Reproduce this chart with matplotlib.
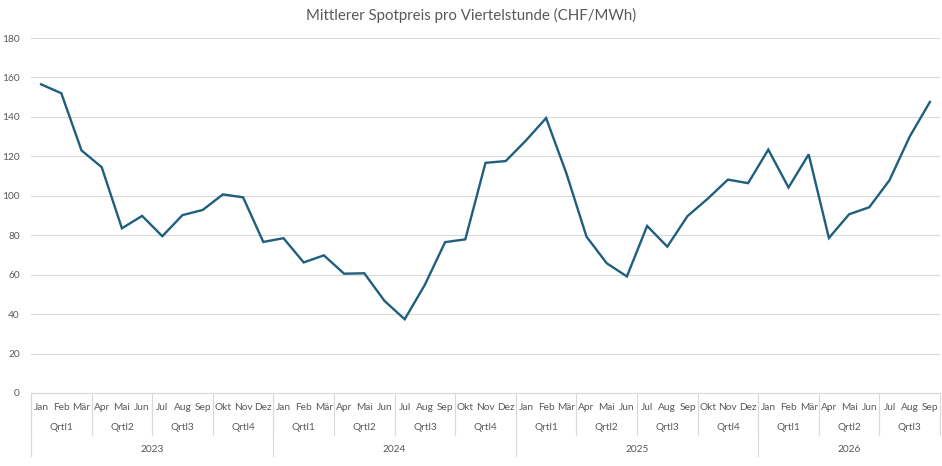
import numpy as np
import matplotlib
matplotlib.use("Agg")
from matplotlib import pyplot as plt
from matplotlib.transforms import blended_transform_factory

plt.rcParams['font.family'] = ['Lato', 'DejaVu Sans']

months = ["Jan", "Feb", "Mär", "Apr", "Mai", "Jun",
          "Jul", "Aug", "Sep", "Okt", "Nov", "Dez"]
quarters = ["Qrtl1", "Qrtl2", "Qrtl3", "Qrtl4"]
years = ["2023", "2024", "2025", "2026"]
months_per_year = [12, 12, 12, 9]

prices_2023 = [156.5, 152, 123, 114.5, 83.5, 89.8, 79.5, 90.2, 92.8, 100.7, 99.2, 76.6]
prices_2024 = [78.5, 66.2, 69.8, 60.5, 60.7, 46.7, 37.4, 54.9, 76.5, 77.9, 116.7, 117.6]
prices_2025 = [128, 139.4, 111.5, 79.3, 65.8, 59.1, 84.7, 74.2, 89.7, 98.5, 108.2, 106.4]
prices_2026 = [123.4, 104.2, 121, 78.6, 90.6, 94.2, 107.9, 130, 147.6]

prices = prices_2023 + prices_2024 + prices_2025 + prices_2026
x = np.arange(len(prices))

grey = "#595959"
grid = "#d9d9d9"
fs = 7.3

fig = plt.figure(figsize=(9.42, 4.66), dpi=100)
ax = fig.add_axes([31 / 942, 73 / 466, 909 / 942, 355 / 466])

ax.plot(x, prices, color="#1f5f7d", linewidth=1.7, solid_joinstyle="miter")
ax.set_xlim(-0.5, len(prices) - 0.5)
ax.set_ylim(0, 180)
ax.set_yticks(range(0, 181, 20))
ax.yaxis.grid(True, color=grid, linewidth=0.8)
ax.set_axisbelow(True)
for s in ["top", "right", "left"]:
    ax.spines[s].set_visible(False)
ax.spines["bottom"].set_color(grid)
ax.spines["bottom"].set_linewidth(0.8)
ax.tick_params(axis="y", length=0, labelsize=fs, labelcolor=grey, pad=8)
ax.tick_params(axis="x", length=0, labelbottom=False)

fig.text(0.5, 1 - 15 / 466, "Mittlerer Spotpreis pro Viertelstunde (CHF/MWh)",
         fontsize=10.8, color=grey, ha="center", va="center")

# mehrstufige Kategorienachse
tr = blended_transform_factory(ax.transData, fig.transFigure)
y_top = 1 - 393 / 466
y_quarter = 1 - 435 / 466
y_year = 1 - 456 / 466

i = 0
for year, n in zip(years, months_per_year):
    start = i
    for m in range(n):
        ax.text(i, 1 - 407 / 466, months[m], transform=tr, ha="center",
                va="center", fontsize=fs, color=grey)
        i += 1
    for q in range(0, n, 3):
        qn = min(3, n - q)
        ax.text(start + q + (qn - 1) / 2, 1 - 428 / 466, quarters[q // 3],
                transform=tr, ha="center", va="center", fontsize=fs, color=grey)
        ax.plot([start + q - 0.5] * 2, [y_top, y_quarter], transform=tr,
                color=grid, linewidth=0.8, clip_on=False)
    ax.text(start + (n - 1) / 2, 1 - 449 / 466, year, transform=tr,
            ha="center", va="center", fontsize=fs, color=grey)
    ax.plot([start - 0.5] * 2, [y_top, y_year], transform=tr,
            color=grid, linewidth=0.8, clip_on=False)
ax.plot([i - 0.5] * 2, [y_top, y_quarter], transform=tr,
        color=grid, linewidth=0.8, clip_on=False)

fig.savefig("out.png", dpi=100)
